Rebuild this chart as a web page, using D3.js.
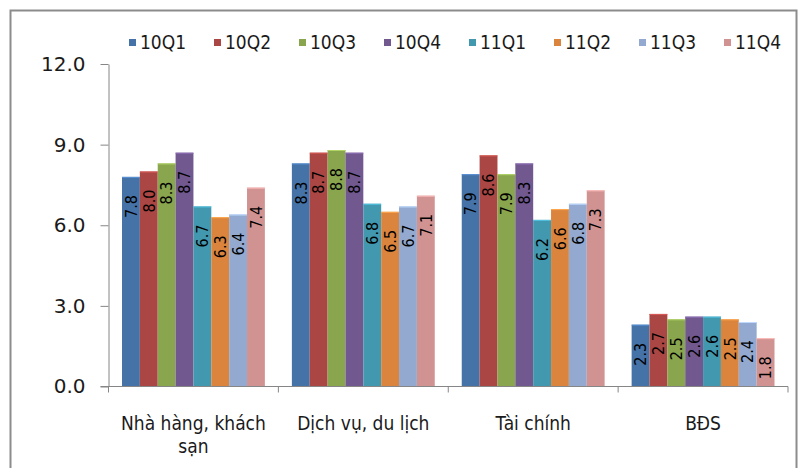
<!DOCTYPE html>
<html>
<head>
<meta charset="utf-8">
<script src="https://cdn.jsdelivr.net/npm/d3@7/dist/d3.min.js"></script>
<style>
  body { margin: 0; background: #fff; }
  svg { display: block; }
  .cond { font-family: "DejaVu Sans Condensed", "DejaVu Sans", sans-serif; }
  .wide { font-family: "DejaVu Sans", Verdana, sans-serif; }
</style>
</head>
<body>
<svg id="chart" width="803" height="468"></svg>
<script>
// Sectors shown along the x axis
const categories = ["Nhà hàng, khách sạn", "Dịch vụ, du lịch", "Tài chính", "BĐS"];

// Quarter series (one value per sector)
const seriesNames = ["10Q1", "10Q2", "10Q3", "10Q4", "11Q1", "11Q2", "11Q3", "11Q4"];
const q10Q1 = [7.8, 8.3, 7.9, 2.3];
const q10Q2 = [8.0, 8.7, 8.6, 2.7];
const q10Q3 = [8.3, 8.8, 7.9, 2.5];
const q10Q4 = [8.7, 8.7, 8.3, 2.6];
const q11Q1 = [6.7, 6.8, 6.2, 2.6];
const q11Q2 = [6.3, 6.5, 6.6, 2.5];
const q11Q3 = [6.4, 6.7, 6.8, 2.4];
const q11Q4 = [7.4, 7.1, 7.3, 1.8];
const seriesColors = ["#4572A7", "#AA4643", "#89A54E", "#71588F", "#4198AF", "#DB843D", "#93A9CF", "#D19392"];

// Value axis ticks
const yTicks = [0, 3, 6, 9, 12];

const seriesValues = [q10Q1, q10Q2, q10Q3, q10Q4, q11Q1, q11Q2, q11Q3, q11Q4];
const rows = categories.map((c, i) => ({
  category: c,
  values: seriesNames.map((s, j) => ({ series: s, value: seriesValues[j][i], color: seriesColors[j] }))
}));

const svg = d3.select("#chart");
const axisColor = "#868686";

// Outer chart frame
svg.append("rect")
  .attr("x", 10.5).attr("y", 10.5)
  .attr("width", 786).attr("height", 470)
  .attr("fill", "none")
  .attr("stroke", "#8c8c8c")
  .attr("stroke-width", 2);

const y = d3.scaleLinear().domain([0, 12]).range([386.5, 64]);
const x0 = d3.scaleBand().domain(categories).range([108.5, 788]).paddingInner(0).paddingOuter(0);
const x1 = d3.scaleBand().domain(seriesNames).range([13.5, x0.bandwidth() - 13.5]).padding(0);

// Value axis
const yAxis = svg.append("g")
  .attr("transform", "translate(108.5,0)")
  .call(d3.axisLeft(y).tickValues(yTicks).tickFormat(d3.format(".1f"))
    .tickSize(8).tickSizeOuter(0).tickPadding(15))
  .attr("font-family", null).attr("font-size", null);
yAxis.select(".domain").attr("stroke", axisColor);
yAxis.selectAll(".tick line").attr("stroke", axisColor);
yAxis.selectAll(".tick text")
  .attr("class", "wide")
  .attr("fill", "#1a1a1a")
  .style("font-size", "20px");

// Bars
const groups = svg.append("g").selectAll("g")
  .data(rows)
  .join("g")
  .attr("transform", d => `translate(${x0(d.category)},0)`);

groups.selectAll("rect")
  .data(d => d.values)
  .join("rect")
  .attr("x", d => x1(d.series))
  .attr("y", d => y(d.value))
  .attr("width", x1.bandwidth())
  .attr("height", d => y(0) - y(d.value))
  .attr("fill", d => d.color);

// Light top edge of each bar
groups.selectAll("line.edge")
  .data(d => d.values)
  .join("line")
  .attr("class", "edge")
  .attr("x1", d => x1(d.series))
  .attr("x2", d => x1(d.series) + x1.bandwidth())
  .attr("y1", d => y(d.value) + 0.5)
  .attr("y2", d => y(d.value) + 0.5)
  .attr("stroke", d => d3.color(d.color).brighter(0.7))
  .attr("stroke-width", 1);

// Rotated value labels inside the bar tops
groups.selectAll("text.val")
  .data(d => d.values)
  .join("text")
  .attr("class", "val cond")
  .attr("transform", d => `translate(${x1(d.series) + x1.bandwidth() / 2},${y(d.value) + 41}) rotate(-90)`)
  .attr("dy", "0.36em")
  .attr("text-anchor", "start")
  .attr("fill", "#000")
  .style("font-size", "16px")
  .text(d => d3.format(".1f")(d.value));

// Category axis: baseline, boundary ticks and labels
const xAxisG = svg.append("g");
xAxisG.append("line")
  .attr("x1", 100.5).attr("x2", 788)
  .attr("y1", y(0)).attr("y2", y(0))
  .attr("stroke", axisColor);
const boundaries = categories.map(c => x0(c)).concat([x0.range()[1]]);
xAxisG.selectAll("line.tick")
  .data(boundaries)
  .join("line")
  .attr("class", "tick")
  .attr("x1", d => d).attr("x2", d => d)
  .attr("y1", y(0)).attr("y2", y(0) + 6)
  .attr("stroke", axisColor);

const xLabels = svg.append("g")
  .attr("transform", `translate(0,${y(0)})`)
  .call(d3.axisBottom(x0).tickSize(0).tickPadding(0))
  .attr("font-family", null).attr("font-size", null);
xLabels.select(".domain").remove();
xLabels.selectAll(".tick text")
  .attr("class", "cond")
  .attr("fill", "#1a1a1a")
  .style("font-size", "19px")
  .call(wrap, 158);

function wrap(sel, width) {
  sel.each(function () {
    const text = d3.select(this);
    const words = text.text().split(/\s+/);
    text.text(null).attr("dy", null);
    let line = [];
    let lineNo = 0;
    let tspan = text.append("tspan").attr("x", 0).attr("y", 43);
    for (const w of words) {
      line.push(w);
      tspan.text(line.join(" "));
      if (tspan.node().getComputedTextLength() > width && line.length > 1) {
        line.pop();
        tspan.text(line.join(" "));
        line = [w];
        lineNo++;
        tspan = text.append("tspan").attr("x", 0).attr("y", 43 + lineNo * 23).text(w);
      }
    }
  });
}

// Legend
const legend = svg.append("g")
  .selectAll("g")
  .data(seriesNames)
  .join("g")
  .attr("transform", (d, i) => `translate(${129 + i * 85},39)`);
legend.append("rect")
  .attr("width", 7).attr("height", 7)
  .attr("fill", (d, i) => seriesColors[i]);
legend.append("text")
  .attr("class", "cond")
  .attr("x", 11).attr("y", 9.5)
  .attr("fill", "#1a1a1a")
  .style("font-size", "19px")
  .text(d => d);
</script>
</body>
</html>
